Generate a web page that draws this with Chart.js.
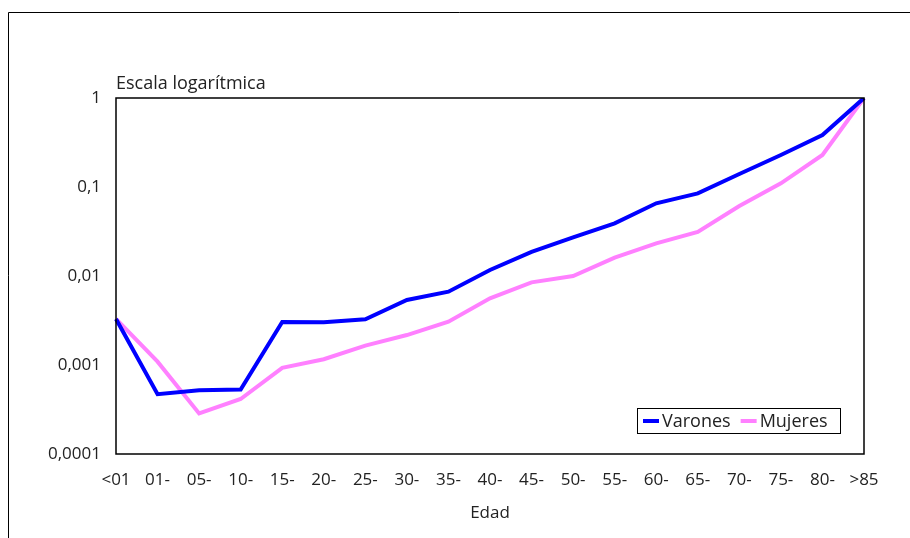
<!DOCTYPE html>
<html>
<head>
<meta charset="utf-8">
<script src="https://cdn.jsdelivr.net/npm/chart.js@4/dist/chart.umd.min.js"></script>
<style>
  html, body { margin: 0; padding: 0; background: #fff; }
  #wrap { width: 910px; height: 538px; }
</style>
</head>
<body>
<div id="wrap"><canvas id="c" width="910" height="538"></canvas></div>
<script>
// Age groups (Edad)
const categories = ['<01', '01-', '05-', '10-', '15-', '20-', '25-', '30-', '35-', '40-',
                    '45-', '50-', '55-', '60-', '65-', '70-', '75-', '80-', '>85'];

// Relative rates by age, men
const varones = [0.00329, 0.00047, 0.00052, 0.00053, 0.00304, 0.00302, 0.00326, 0.00537, 0.00667, 0.0117,
                 0.0187, 0.0272, 0.0391, 0.0656, 0.0849, 0.140, 0.229, 0.384, 1];

// Relative rates by age, women
const mujeres = [0.00329, 0.00109, 0.000286, 0.000415, 0.00093, 0.00116, 0.00165, 0.00217, 0.00307, 0.00561,
                 0.00849, 0.0100, 0.0161, 0.0233, 0.0312, 0.0612, 0.110, 0.229, 1];

// Decade ticks of the log axis
const yTicks = [0.0001, 0.001, 0.01, 0.1, 1];
const yTickLabels = ['0,0001', '0,001', '0,01', '0,1', '1'];

const axisTitle = 'Edad';
const scaleNote = 'Escala logarítmica';
const seriesNames = ['Varones', 'Mujeres'];
const seriesColors = ['#0000FF', '#FF80FF'];

const FONT = '"Open Sans", "DejaVu Sans", sans-serif';
const TEXT = '#222';

// Outer frame, plot box, scale note and in-plot legend
const decorations = {
  id: 'decorations',
  beforeDraw(chart) {
    const ctx = chart.ctx;
    ctx.save();
    ctx.strokeStyle = '#000';
    ctx.lineWidth = 1;
    ctx.beginPath();
    ctx.moveTo(8.5, 538);
    ctx.lineTo(8.5, 12.5);
    ctx.lineTo(910, 12.5);
    ctx.stroke();
    ctx.restore();
  },
  afterDraw(chart) {
    const ctx = chart.ctx;
    const a = chart.chartArea;
    ctx.save();
    ctx.strokeStyle = '#000';
    ctx.lineWidth = 1.5;
    ctx.strokeRect(a.left, a.top, a.right - a.left, a.bottom - a.top);

    ctx.fillStyle = TEXT;
    ctx.font = '18px ' + FONT;
    ctx.textAlign = 'left';
    ctx.textBaseline = 'alphabetic';
    ctx.fillText(scaleNote, a.left, a.top - 9);

    // legend box
    const bx = 637, by = 408, bw = 203, bh = 25;
    ctx.fillStyle = '#fff';
    ctx.fillRect(bx, by, bw, bh);
    ctx.strokeStyle = '#000';
    ctx.lineWidth = 1;
    ctx.strokeRect(bx + 0.5, by + 0.5, bw, bh);
    ctx.font = '18px ' + FONT;
    ctx.textBaseline = 'middle';
    let x = bx + 6;
    const cy = by + bh / 2 + 0.5;
    chart.data.datasets.forEach((ds) => {
      ctx.strokeStyle = ds.borderColor;
      ctx.lineWidth = 4;
      ctx.beginPath();
      ctx.moveTo(x, cy);
      ctx.lineTo(x + 16, cy);
      ctx.stroke();
      ctx.fillStyle = TEXT;
      ctx.fillText(ds.label, x + 19, cy + 1);
      x += 19 + ctx.measureText(ds.label).width + 10;
    });
    ctx.restore();
  }
};

new Chart(document.getElementById('c'), {
  type: 'line',
  data: {
    labels: categories,
    datasets: [
      { label: seriesNames[0], data: varones, borderColor: seriesColors[0], backgroundColor: seriesColors[0],
        borderWidth: 4, pointRadius: 0, tension: 0, borderJoinStyle: 'miter' },
      { label: seriesNames[1], data: mujeres, borderColor: seriesColors[1], backgroundColor: seriesColors[1],
        borderWidth: 4, pointRadius: 0, tension: 0, borderJoinStyle: 'miter' }
    ]
  },
  options: {
    responsive: false,
    animation: false,
    devicePixelRatio: 1,
    layout: { padding: { top: 98, right: 46, left: 0, bottom: 0 } },
    plugins: {
      legend: { display: false },
      tooltip: { enabled: false },
      title: { display: false }
    },
    scales: {
      x: {
        type: 'category',
        offset: false,
        grid: { display: false, drawTicks: false },
        border: { display: false },
        ticks: { color: TEXT, font: { family: FONT, size: 17 }, padding: 16, maxRotation: 0, autoSkip: false },
        title: { display: true, text: axisTitle, color: TEXT, font: { family: FONT, size: 17 },
                 padding: { top: 15, bottom: 15 } },
        afterFit(scale) { scale.height = 84; }
      },
      y: {
        type: 'logarithmic',
        min: 0.0001,
        max: 1,
        grid: { display: false, drawTicks: false },
        border: { display: false },
        afterBuildTicks(scale) { scale.ticks = yTicks.map(v => ({ value: v })); },
        ticks: {
          color: TEXT,
          font: { family: FONT, size: 17 },
          padding: 15,
          callback(value) {
            const i = yTicks.findIndex(t => Math.abs(t - value) / t < 1e-6);
            return i >= 0 ? yTickLabels[i] : '';
          }
        },
        afterFit(scale) { scale.width = 116; }
      }
    }
  },
  plugins: [decorations]
});
</script>
</body>
</html>
